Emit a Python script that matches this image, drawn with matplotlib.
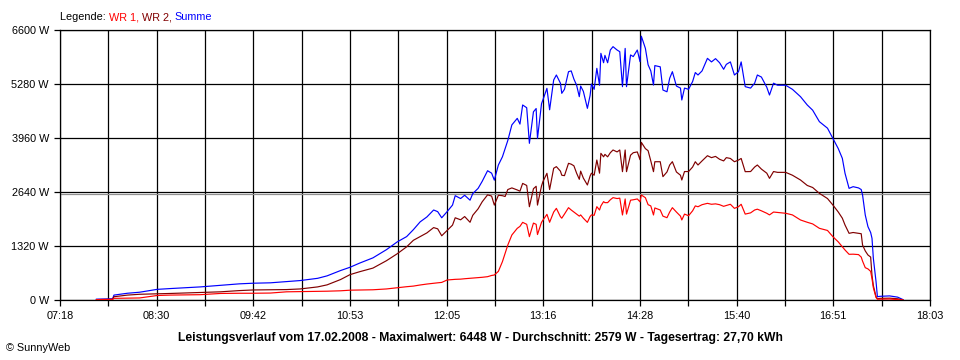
import numpy as np
import matplotlib
matplotlib.use("Agg")
import matplotlib.pyplot as plt

plt.rcParams['font.family'] = ['Liberation Sans', 'DejaVu Sans']

ZEIT = [
    "07:45", "07:57", "07:58", "08:08", "08:17", "08:30", "08:40", "09:02", "09:17", "09:31",
    "09:41", "09:54", "10:06", "10:16", "10:29", "10:36", "10:46", "10:53", "11:00", "11:10",
    "11:20", "11:28", "11:35", "11:40", "11:45", "11:50", "11:55", "11:58", "12:01", "12:05",
    "12:09", "12:11", "12:15", "12:18", "12:22", "12:24", "12:28", "12:31", "12:35", "12:38",
    "12:40", "12:43", "12:46", "12:48", "12:50", "12:53", "12:57", "12:59", "13:01", "13:04",
    "13:06", "13:09", "13:11", "13:12", "13:15", "13:16", "13:19", "13:21", "13:24", "13:26",
    "13:29", "13:30", "13:32", "13:35", "13:37", "13:39", "13:41", "13:43", "13:44", "13:46",
    "13:49", "13:51", "13:52", "13:54", "13:56", "13:58", "13:59", "14:01", "14:02", "14:04",
    "14:06", "14:08", "14:11", "14:13", "14:15", "14:17", "14:18", "14:21", "14:23", "14:26",
    "14:28", "14:29", "14:32", "14:34", "14:36", "14:38", "14:39", "14:43", "14:45", "14:48",
    "14:50", "14:52", "14:55", "14:58", "14:59", "15:01", "15:04", "15:07", "15:09", "15:11",
    "15:14", "15:18", "15:21", "15:24", "15:27", "15:30", "15:32", "15:35", "15:38", "15:41",
    "15:43", "15:46", "15:50", "15:53", "15:55", "15:58", "16:02", "16:04", "16:07", "16:10",
    "16:16", "16:21", "16:27", "16:32", "16:36", "16:41", "16:47", "16:51", "16:55", "16:58",
    "17:00", "17:03", "17:06", "17:10", "17:12", "17:13", "17:15", "17:17", "17:19", "17:20",
    "17:21", "17:23", "17:24", "17:26", "17:33", "17:39", "17:43",
]
WR1 = [
    10, 15, 40, 45, 50, 110, 120, 130, 160, 165,
    165, 170, 200, 205, 210, 215, 225, 240, 244, 250,
    270, 300, 325, 340, 367, 390, 410, 420, 430, 489,
    500, 505, 510, 520, 530, 535, 545, 555, 570, 600,
    611, 700, 937, 1141, 1344, 1589, 1752, 1800, 1898, 1850,
    1548, 1880, 1850, 1600, 1900, 1950, 2094, 1900, 2150, 2240,
    2037, 2000, 2100, 2257, 2200, 2150, 2100, 2050, 2080, 2000,
    1898, 2040, 2080, 2070, 2281, 2200, 2300, 2404, 2380, 2380,
    2450, 2502, 2480, 2490, 2078, 2470, 2100, 2440, 2450, 2470,
    2400, 2567, 2500, 2330, 2300, 2078, 2250, 2200, 2050, 2012,
    2150, 2257, 2150, 2050, 1956, 2100, 2060, 2180, 2300, 2280,
    2330, 2363, 2340, 2350, 2330, 2290, 2310, 2340, 2240, 2280,
    2340, 2100, 2130, 2200, 2220, 2180, 2120, 2080, 2150, 2140,
    2120, 2080, 1956, 1900, 1860, 1752, 1700, 1548, 1420, 1300,
    1222, 1117, 1120, 1110, 1050, 950, 790, 760, 700, 520,
    300, 60, 20, 20, 25, 10, 0,
]
WR2 = [
    10, 15, 80, 120, 140, 150, 160, 185, 200, 230,
    245, 250, 255, 270, 320, 370, 500, 620, 690, 780,
    960, 1130, 1300, 1460, 1550, 1640, 1770, 1740, 1570, 1700,
    1830, 2010, 1960, 2040, 1900, 2070, 2230, 2400, 2570, 2540,
    2320, 2560, 2550, 2530, 2700, 2740, 2690, 2660, 2850, 2800,
    2280, 2720, 2780, 2320, 2790, 2890, 3097, 2700, 3220, 3260,
    3150, 3050, 3040, 3341, 3320, 3280, 3100, 2950, 3150, 2980,
    2811, 3030, 3100, 3050, 3422, 3100, 3585, 3500, 3560, 3500,
    3600, 3667, 3620, 3667, 3137, 3667, 3137, 3540, 3600, 3620,
    3430, 3853, 3700, 3650, 3400, 3137, 3380, 3380, 3015, 3130,
    3300, 3381, 3130, 3050, 2933, 3140, 3140, 3250, 3380, 3300,
    3400, 3527, 3480, 3510, 3440, 3400, 3480, 3460, 3380, 3420,
    3460, 3137, 3140, 3250, 3300, 3200, 3100, 2974, 3140, 3120,
    3120, 3050, 2933, 2800, 2750, 2607, 2480, 2322, 2150, 2000,
    1833, 1630, 1650, 1630, 1620, 1344, 1200, 1100, 1050, 600,
    350, 80, 30, 40, 45, 30, 0,
]
SUMME = [
    20, 30, 120, 165, 190, 260, 280, 320, 360, 395,
    410, 420, 450, 475, 530, 590, 720, 800, 900, 1030,
    1230, 1420, 1550, 1720, 1910, 2030, 2200, 2160, 2010, 2160,
    2320, 2550, 2480, 2560, 2440, 2600, 2730, 2900, 3160, 3100,
    2930, 3300, 3500, 3700, 3900, 4280, 4440, 4300, 4767, 4700,
    3830, 4600, 4680, 3950, 4800, 4890, 5174, 4650, 5378, 5500,
    5300, 5052, 5150, 5581, 5600, 5400, 5250, 4970, 5230, 5100,
    4685, 5000, 5280, 5150, 5663, 5250, 6030, 5800, 5980, 5800,
    6111, 6193, 6111, 6070, 5215, 6150, 5215, 5990, 5950, 6111,
    5826, 6448, 6150, 5750, 5600, 5255, 5730, 5700, 5133, 5090,
    5420, 5581, 5230, 5180, 4889, 5180, 5150, 5340, 5560, 5500,
    5600, 5907, 5820, 5900, 5800, 5640, 5760, 5820, 5500, 5580,
    5820, 5215, 5180, 5300, 5500, 5450, 5200, 5011, 5300, 5250,
    5250, 5150, 4970, 4767, 4640, 4359, 4200, 3952, 3700, 3463,
    3097, 2729, 2770, 2740, 2700, 2567, 2078, 1793, 1650, 1507,
    1018, 448, 81, 90, 100, 70, 10,
]

Y_TICKS = [0, 1320, 2640, 3960, 5280, 6600]
X_LABELS = ["07:18", "08:30", "09:42", "10:53", "12:05",
            "13:16", "14:28", "15:40", "16:51", "18:03"]
DURCHSCHNITT = 2579
TITEL = ("Leistungsverlauf vom 17.02.2008 - Maximalwert: 6448 W - "
         "Durchschnitt: 2579 W - Tagesertrag: 27,70 kWh")


def minuten(hhmm):
    h, m = hhmm.split(":")
    return int(h) * 60 + int(m)


x = [minuten(t) for t in ZEIT]
start = minuten(X_LABELS[0])
ende = minuten(X_LABELS[-1])

fig = plt.figure(figsize=(9.6, 3.6), dpi=100)
ax = fig.add_axes([60 / 960, 60 / 360, 870 / 960, 270 / 360])

# Gitter
ax.set_xlim(start, ende)
ax.set_ylim(0, 6600)
ax.set_xticks(np.linspace(start, ende, len(X_LABELS)))
ax.set_xticklabels(X_LABELS)
ax.set_xticks(np.linspace(start, ende, 2 * len(X_LABELS) - 1), minor=True)
ax.set_yticks(Y_TICKS)
ax.set_yticklabels([f"{v} W" for v in Y_TICKS])
ax.grid(which='both', color='black', linewidth=0.9, zorder=1)
ax.set_axisbelow(True)
ax.tick_params(which='both', length=4, width=0.9, color='black',
               labelsize=7.8, pad=4)
for s in ax.spines.values():
    s.set_linewidth(0.9)

ax.axhline(DURCHSCHNITT, color='#909090', linewidth=0.9, zorder=1.5)

ax.plot(x, SUMME, color='#0000ff', linewidth=0.85, zorder=3)
ax.plot(x, WR2, color='#800000', linewidth=0.85, zorder=3)
ax.plot(x, WR1, color='#ff0000', linewidth=0.85, zorder=3)

# Legende
t = fig.text(60 / 960, 1 - 17 / 360, "Legende: ", fontsize=7.8, va='center', color='black')
for txt, col in [("WR 1, ", '#ff0000'), ("WR 2, ", '#800000'), ("Summe", '#0000ff')]:
    t = ax.annotate(txt, xy=(1, 0), xycoords=t, va='bottom', ha='left',
                    fontsize=7.8, color=col, annotation_clip=False)

fig.text(0.5, 1 - 338 / 360, TITEL, fontsize=8.7, fontweight='bold', ha='center', va='center')
fig.text(6 / 960, 1 - 348 / 360, "\u00a9 SunnyWeb", fontsize=7.8, ha='left', va='center')

fig.savefig("out.png", dpi=100)
